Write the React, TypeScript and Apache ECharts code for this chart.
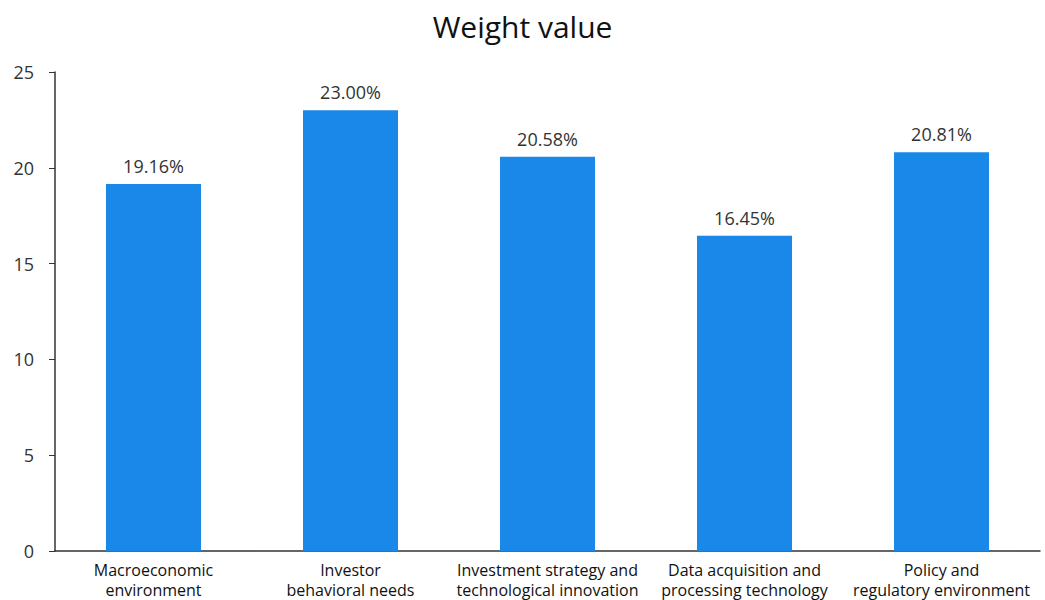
import React, { useEffect, useRef } from "react";
import * as echarts from "echarts";

const categories = [
  "Macroeconomic\nenvironment",
  "Investor\nbehavioral needs",
  "Investment strategy and\ntechnological innovation",
  "Data acquisition and\nprocessing technology",
  "Policy and\nregulatory environment",
];
const values = [19.16, 23.0, 20.58, 16.45, 20.81];
const yTicks = { min: 0, max: 25, interval: 5 };

export default function App() {
  const ref = useRef<HTMLDivElement>(null);
  useEffect(() => {
    if (!ref.current) return;
    const chart = echarts.init(ref.current, null, { renderer: "svg" });
    const font = "'Open Sans', 'Noto Sans', sans-serif";
    chart.setOption({
      animation: false,
      backgroundColor: "#ffffff",
      title: {
        text: "Weight value",
        left: "center",
        top: 6,
        textStyle: { fontSize: 30, fontWeight: "normal", color: "#111", fontFamily: font },
      },
      grid: { left: 55, right: 5, top: 72, bottom: 48, containLabel: false },
      xAxis: {
        type: "category",
        data: categories,
        axisLine: { lineStyle: { color: "#333", width: 1.5 } },
        axisTick: { show: false },
        axisLabel: {
          color: "#111",
          fontSize: 16,
          fontFamily: font,
          lineHeight: 20,
          interval: 0,
          margin: 9,
        },
      },
      yAxis: {
        type: "value",
        min: yTicks.min,
        max: yTicks.max,
        interval: yTicks.interval,
        splitLine: { show: false },
        axisLine: { show: true, lineStyle: { color: "#333", width: 1.5 } },
        axisTick: { show: true, length: 6, lineStyle: { color: "#333" } },
        axisLabel: { color: "#333", fontSize: 18, fontFamily: font, margin: 21 },
      },
      series: [
        {
          type: "bar",
          data: values,
          barWidth: 95,
          itemStyle: { color: "#1a88e9" },
          label: {
            show: true,
            position: "top",
            distance: 9,
            color: "#333",
            fontSize: 18,
            fontFamily: font,
            formatter: (p: any) => p.value.toFixed(2) + "%",
          },
        },
      ],
    });
    return () => chart.dispose();
  }, []);
  return (
    <div
      ref={ref}
      style={{ position: "fixed", left: 0, top: 0, width: 1045, height: 600 }}
    />
  );
}
